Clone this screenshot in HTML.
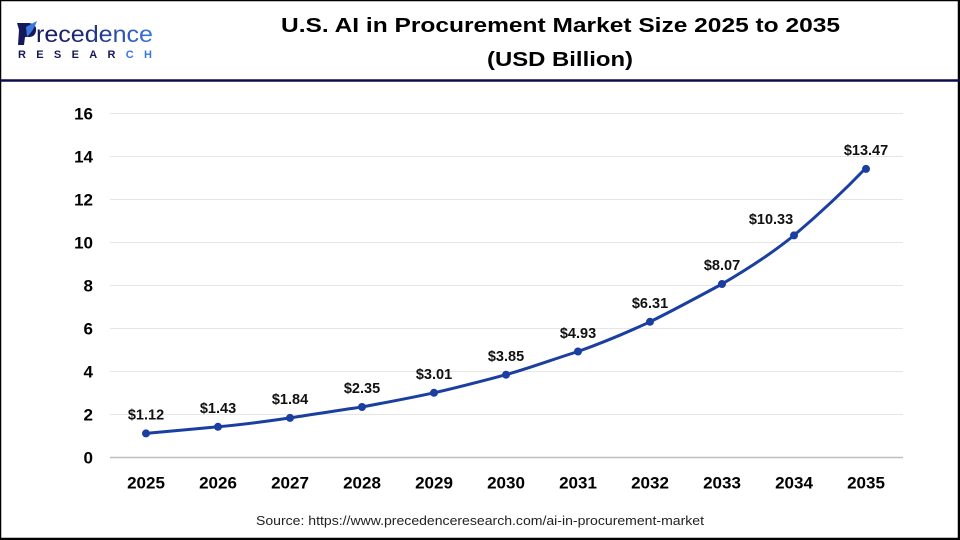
<!DOCTYPE html>
<html>
<head>
<meta charset="utf-8">
<style>
html,body{margin:0;padding:0;background:#fff;}
svg{display:block;}
</style>
</head>
<body>
<svg width="960" height="540" viewBox="0 0 960 540" xmlns="http://www.w3.org/2000/svg">
<defs>
<linearGradient id="lg" x1="0" x2="1" y1="0" y2="0">
<stop offset="0" stop-color="#15195a"/>
<stop offset="0.45" stop-color="#1f2f7a"/>
<stop offset="1" stop-color="#3d78de"/>
</linearGradient>
</defs>
<rect x="0" y="0" width="960" height="540" fill="#fff"/>
<!-- frame -->
<rect x="0.5" y="0.5" width="958" height="538" fill="none" stroke="#000" stroke-width="1.5"/>
<line x1="0" y1="539" x2="960" y2="539" stroke="#000" stroke-width="2"/>
<line x1="959" y1="0" x2="959" y2="540" stroke="#000" stroke-width="2"/>
<!-- header separator -->
<line x1="0" y1="80.5" x2="960" y2="80.5" stroke="#0d0d45" stroke-width="2.5"/>

<!-- logo -->
<g>
<path d="M17,23 L29,23 Q37,24 36,31 Q35,37 29,37 L25,37 L24,45 L18,45 L19,30 Q18,26 17,23 Z" fill="#15195a"/>
<path d="M26,27 Q33,23 37,21 Q34,30 27,37 Z" fill="#3d78de"/>
<text x="36" y="42" font-family="'Liberation Sans',sans-serif" font-size="23" fill="url(#lg)" textLength="117" lengthAdjust="spacingAndGlyphs">recedence</text>
<text x="18" y="58" font-family="'Liberation Sans',sans-serif" font-size="11" font-weight="bold" fill="#15195a" textLength="134" lengthAdjust="spacing">RESEAR<tspan fill="#3d78de">CH</tspan></text>
</g>

<!-- title -->
<text x="560.5" y="32" text-anchor="middle" font-family="'Liberation Sans',sans-serif" font-size="20.5" font-weight="bold" fill="#000" textLength="559" lengthAdjust="spacingAndGlyphs">U.S. AI in Procurement Market Size 2025 to 2035</text>
<text x="560" y="66" text-anchor="middle" font-family="'Liberation Sans',sans-serif" font-size="20.5" font-weight="bold" fill="#000" textLength="146" lengthAdjust="spacingAndGlyphs">(USD Billion)</text>

<!-- gridlines -->
<g stroke="#e6e6e6" stroke-width="1">
<line x1="110" y1="113.5" x2="903" y2="113.5"/>
<line x1="110" y1="156.5" x2="903" y2="156.5"/>
<line x1="110" y1="199.5" x2="903" y2="199.5"/>
<line x1="110" y1="242.5" x2="903" y2="242.5"/>
<line x1="110" y1="285.5" x2="903" y2="285.5"/>
<line x1="110" y1="328.5" x2="903" y2="328.5"/>
<line x1="110" y1="371.5" x2="903" y2="371.5"/>
<line x1="110" y1="414.5" x2="903" y2="414.5"/>
</g>
<line x1="110" y1="457.5" x2="903" y2="457.5" stroke="#bfbfbf" stroke-width="1.5"/>

<!-- y labels -->
<g font-family="'Liberation Sans',sans-serif" font-size="17" font-weight="bold" fill="#000" text-anchor="end">
<text x="93" y="119.5">16</text>
<text x="93" y="162.5">14</text>
<text x="93" y="205.5">12</text>
<text x="93" y="248.5">10</text>
<text x="93" y="291.5">8</text>
<text x="93" y="334.5">6</text>
<text x="93" y="377.5">4</text>
<text x="93" y="420.5">2</text>
<text x="93" y="463.5">0</text>
</g>

<!-- x labels -->
<g font-family="'Liberation Sans',sans-serif" font-size="17" font-weight="bold" fill="#000" text-anchor="middle">
<text x="146" y="488.5">2025</text>
<text x="218" y="488.5">2026</text>
<text x="290" y="488.5">2027</text>
<text x="362" y="488.5">2028</text>
<text x="434" y="488.5">2029</text>
<text x="506" y="488.5">2030</text>
<text x="578" y="488.5">2031</text>
<text x="650" y="488.5">2032</text>
<text x="722" y="488.5">2033</text>
<text x="794" y="488.5">2034</text>
<text x="866" y="488.5">2035</text>
</g>

<!-- series -->
<path d="M146,433.4 C170,431 194,429 218,426.8 C242,424.6 266,421.5 290,417.9 C314,414.3 338,410.3 362,406.97 C386,402.5 410,398 434,392.8 C458,387.5 482,381 506,374.7 C530,368 554,359 578,351.5 C602,343 626,333 650,321.8 C674,310 698,297 722,284 C746,270 770,255 794,235.4 C818,215 842,193 866,167.9" fill="none" stroke="#1b3fa0" stroke-width="3" stroke-linejoin="round" stroke-linecap="round"/>
<g fill="#1b3fa0">
<circle cx="146" cy="433.4" r="4"/>
<circle cx="218" cy="426.8" r="4"/>
<circle cx="290" cy="417.9" r="4"/>
<circle cx="362" cy="407.0" r="4"/>
<circle cx="434" cy="392.8" r="4"/>
<circle cx="506" cy="374.7" r="4"/>
<circle cx="578" cy="351.5" r="4"/>
<circle cx="650" cy="321.8" r="4"/>
<circle cx="722" cy="284.0" r="4"/>
<circle cx="794" cy="235.4" r="4"/>
<circle cx="866" cy="168.9" r="4"/>
</g>

<!-- data labels -->
<g font-family="'Liberation Sans',sans-serif" font-size="14.5" font-weight="bold" fill="#111" text-anchor="middle">
<text x="146" y="419.5">$1.12</text>
<text x="218" y="413">$1.43</text>
<text x="290" y="404">$1.84</text>
<text x="362" y="393">$2.35</text>
<text x="434" y="379">$3.01</text>
<text x="506" y="361">$3.85</text>
<text x="578" y="338">$4.93</text>
<text x="650" y="308">$6.31</text>
<text x="722" y="270">$8.07</text>
<text x="771" y="224">$10.33</text>
<text x="866" y="155">$13.47</text>
</g>

<!-- source -->
<text x="480" y="525" text-anchor="middle" font-family="'Liberation Sans',sans-serif" font-size="12.5" fill="#222" textLength="448" lengthAdjust="spacingAndGlyphs">Source: https://www.precedenceresearch.com/ai-in-procurement-market</text>
</svg>
</body>
</html>
